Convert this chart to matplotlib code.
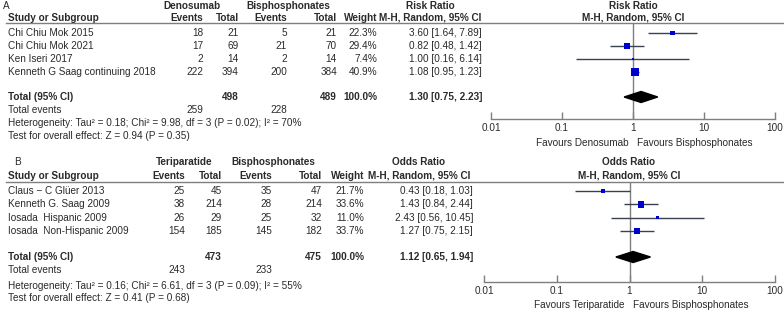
import numpy as np
import matplotlib
matplotlib.use("Agg")
import matplotlib.pyplot as plt
from matplotlib.ticker import FixedLocator, FixedFormatter, NullLocator

plt.rcParams['font.family'] = ['Liberation Sans', 'DejaVu Sans']

W, H = 784, 310

# ---- panel A data ----
studies_a = ["Chi Chiu Mok 2015", "Chi Chiu Mok 2021", "Ken Iseri 2017",
             "Kenneth G Saag continuing 2018"]
den_events = [18, 17, 2, 222]
den_total = [21, 69, 14, 394]
bis_events_a = [5, 21, 2, 200]
bis_total_a = [21, 70, 14, 384]
weight_a = [22.3, 29.4, 7.4, 40.9]
rr = [3.60, 0.82, 1.00, 1.08]
rr_lo = [1.64, 0.48, 0.16, 0.95]
rr_hi = [7.89, 1.42, 6.14, 1.23]
total_a = [498, 489]
events_a = [259, 228]
pooled_a = [1.30, 0.75, 2.23]
het_a = "Heterogeneity: Tau² = 0.18; Chi² = 9.98, df = 3 (P = 0.02); I² = 70%"
test_a = "Test for overall effect: Z = 0.94 (P = 0.35)"

# ---- panel B data ----
studies_b = ["Claus \u2212 C Glüer 2013", "Kenneth G. Saag 2009", "Iosada  Hispanic 2009",
             "Iosada  Non-Hispanic 2009"]
ter_events = [25, 38, 26, 154]
ter_total = [45, 214, 29, 185]
bis_events_b = [35, 28, 25, 145]
bis_total_b = [47, 214, 32, 182]
weight_b = [21.7, 33.6, 11.0, 33.7]
odds = [0.43, 1.43, 2.43, 1.27]
odds_lo = [0.18, 0.84, 0.56, 0.75]
odds_hi = [1.03, 2.44, 10.45, 2.15]
total_b = [473, 475]
events_b = [243, 233]
pooled_b = [1.12, 0.65, 1.94]
het_b = "Heterogeneity: Tau² = 0.16; Chi² = 6.61, df = 3 (P = 0.09); I² = 55%"
test_b = "Test for overall effect: Z = 0.41 (P = 0.68)"

ticks = [0.01, 0.1, 1, 10, 100]
tick_labels = ["0.01", "0.1", "1", "10", "100"]

TXT = '#2a2a2a'
GRID = '#7f7f7f'
FS = 7.2

fig = plt.figure(figsize=(W / 100, H / 100), dpi=100)


def t(x, y, s, ha='left', bold=False, **kw):
    fig.text(x / W, 1 - y / H, s, ha=ha, va='center', fontsize=FS, color=TXT,
             fontweight='bold' if bold else 'normal', **kw)


def panel(L, studies, e1, n1, e2, n2, wts, est, lo, hi, tot, ev, pooled, het, test):
    t(L['lab_x'], L['y_h1'], L['lab'])
    t(L['g1'], L['y_h1'], L['name1'], ha='center', bold=True)
    t(L['g2'], L['y_h1'], "Bisphosphonates", ha='center', bold=True)
    t(L['c_eff'], L['y_h1'], L['measure'], ha='center', bold=True)
    t(L['c_plot'], L['y_h1'], L['measure'], ha='center', bold=True)
    y2 = L['y_h2']
    t(8, y2, "Study or Subgroup", bold=True)
    t(L['ev1'], y2, "Events", ha='right', bold=True)
    t(L['tot1'], y2, "Total", ha='right', bold=True)
    t(L['ev2'], y2, "Events", ha='right', bold=True)
    t(L['tot2'], y2, "Total", ha='right', bold=True)
    t(L['wt'], y2, "Weight", ha='right', bold=True)
    t(L['c_eff'], y2, "M-H, Random, 95% CI", ha='center', bold=True)
    t(L['c_plot'], y2, "M-H, Random, 95% CI", ha='center', bold=True)
    fig.add_artist(plt.Line2D([6 / W, 1], [1 - L['y_line'] / H] * 2, color=GRID, lw=1.0))

    rows = [L['y_row0'] + L['dy'] * i for i in range(len(studies))]
    for i, y in enumerate(rows):
        t(8, y, studies[i])
        t(L['ev1'], y, str(e1[i]), ha='right')
        t(L['tot1'], y, str(n1[i]), ha='right')
        t(L['ev2'], y, str(e2[i]), ha='right')
        t(L['tot2'], y, str(n2[i]), ha='right')
        t(L['wt'], y, f"{wts[i]:.1f}%", ha='right')
        t(L['eff_r'], y, f"{est[i]:.2f} [{lo[i]:.2f}, {hi[i]:.2f}]", ha='right')
    yt = L['y_total']
    t(8, yt, "Total (95% CI)", bold=True)
    t(L['tot1'], yt, str(tot[0]), ha='right', bold=True)
    t(L['tot2'], yt, str(tot[1]), ha='right', bold=True)
    t(L['wt'], yt, "100.0%", ha='right', bold=True)
    t(L['eff_r'], yt, f"{pooled[0]:.2f} [{pooled[1]:.2f}, {pooled[2]:.2f}]", ha='right', bold=True)
    t(8, yt + L['dy'], "Total events")
    t(L['ev1'], yt + L['dy'], str(ev[0]), ha='right')
    t(L['ev2'], yt + L['dy'], str(ev[1]), ha='right')
    t(8, L['y_het'], het)
    t(8, L['y_test'], test)

    # forest plot
    x0, x1, top, bot = L['ax_x0'], L['ax_x1'], L['y_line'], L['y_axis']
    ax = fig.add_axes([x0 / W, 1 - bot / H, (x1 - x0) / W, (bot - top) / H])
    ax.set_xscale('log')
    ax.set_xlim(0.01, 100)
    ax.set_ylim(bot, top)
    ax.patch.set_visible(False)
    for s in ['top', 'left', 'right']:
        ax.spines[s].set_visible(False)
    ax.spines['bottom'].set_color(GRID)
    ax.spines['bottom'].set_linewidth(1.0)
    ax.xaxis.set_major_locator(FixedLocator(ticks))
    ax.xaxis.set_major_formatter(FixedFormatter(tick_labels))
    ax.xaxis.set_minor_locator(NullLocator())
    ax.tick_params(axis='x', direction='in', length=5, width=1.0, color=GRID,
                   labelsize=FS, labelcolor=TXT, pad=3)
    ax.set_yticks([])
    ax.axvline(1, color=GRID, lw=1.0, zorder=1)
    ax.hlines(rows, lo, hi, color='#3a4150', lw=1.0, zorder=2)
    sizes = [(w * 0.17 + 0.8) * 0.72 for w in wts]
    ax.scatter(est, rows, marker='s', s=np.array(sizes) ** 2, color='#0000cc',
               edgecolors='none', zorder=3)
    hh = 5.5
    ax.fill([pooled[1], pooled[0], pooled[2], pooled[0]],
            [yt, yt - hh, yt, yt + hh], color='black', zorder=3)
    t(L['c_plot'] - 4, L['y_fav'], L['fav_left'], ha='right')
    t(L['c_plot'] + 4, L['y_fav'], "Favours Bisphosphonates")


layout_a = dict(lab='A', lab_x=3, y_h1=6, y_h2=18, y_line=23, y_row0=33, dy=13,
                y_total=97, y_het=123, y_test=136, name1="Denosumab", measure="Risk Ratio",
                g1=192, g2=288, ev1=203, tot1=239, ev2=287, tot2=337, wt=377,
                c_eff=430, eff_r=482, c_plot=633, ax_x0=491, ax_x1=775, y_axis=119,
                y_fav=143, fav_left="Favours Denosumab")
layout_b = dict(lab='B', lab_x=14, y_h1=162, y_h2=176, y_line=182, y_row0=191, dy=13.3,
                y_total=257, y_het=286, y_test=298, name1="Teriparatide", measure="Odds Ratio",
                g1=184, g2=273, ev1=185, tot1=222, ev2=272, tot2=322, wt=364,
                c_eff=419, eff_r=473, c_plot=629, ax_x0=484, ax_x1=775, y_axis=282,
                y_fav=305, fav_left="Favours Teriparatide")

panel(layout_a, studies_a, den_events, den_total, bis_events_a, bis_total_a, weight_a,
      rr, rr_lo, rr_hi, total_a, events_a, pooled_a, het_a, test_a)
panel(layout_b, studies_b, ter_events, ter_total, bis_events_b, bis_total_b, weight_b,
      odds, odds_lo, odds_hi, total_b, events_b, pooled_b, het_b, test_b)

fig.savefig("out.png", dpi=100)
